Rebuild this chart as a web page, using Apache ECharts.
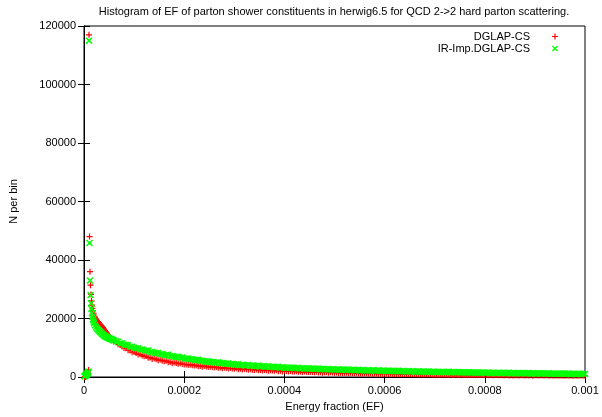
<!DOCTYPE html>
<html>
<head>
<meta charset="utf-8">
<script src="https://cdn.jsdelivr.net/npm/echarts@6/dist/echarts.min.js"></script>
<style>html,body{margin:0;padding:0;background:#fff}#c{width:602px;height:417px}</style>
</head>
<body>
<div id="c"></div>
<script>
// Energy fraction bin positions, in units of 1e-6
const efMicro = [1,2,3,4,5,6,7,8,9,
 10,11,12,13,14,15,16,17,18,19,20,
 22,24,26,28,30,32,34,36,38,40,42,44,46,48,50,52,54,56,58,60,
 64,68,72,76,80,84,88,92,96,100,104,108,112,116,120,124,128,132,136,140,144,148,152,156,160,164,168,172,176,180,184,188,192,196,200,
 204,208,212,216,220,224,228,232,236,240,244,248,252,256,260,264,268,272,276,280,284,288,292,296,300,
 304,308,312,316,320,324,328,332,336,340,344,348,352,356,360,364,368,372,376,380,384,388,392,396,400,
 404,408,412,416,420,424,428,432,436,440,444,448,452,456,460,464,468,472,476,480,484,488,492,496,500,
 504,508,512,516,520,524,528,532,536,540,544,548,552,556,560,564,568,572,576,580,584,588,592,596,600,
 604,608,612,616,620,624,628,632,636,640,644,648,652,656,660,664,668,672,676,680,684,688,692,696,700,
 704,708,712,716,720,724,728,732,736,740,744,748,752,756,760,764,768,772,776,780,784,788,792,796,800,
 804,808,812,816,820,824,828,832,836,840,844,848,852,856,860,864,868,872,876,880,884,888,892,896,900,
 904,908,912,916,920,924,928,932,936,940,944,948,952,956,960,964,968,972,976,980,984,988,992,996,1000];

const dglapCS = [0,0,100,200,400,600,900,1700,2400,
 117000,48000,36000,31400,28200,26000,24600,23500,22600,21800,21200,
 20500,19900,19400,18900,18500,18100,17700,17300,16900,16400,15900,15450,15000,14500,14000,13600,13200,12900,12600,12300,
 11870,11160,10940,10400,9930,9860,9160,9070,8490,8540,8170,7710,7740,7380,7080,7160,6610,6630,6170,6340,6110,5740,5870,5590,5380,5530,5050,5140,4740,4980,4800,4490,4670,4430,4270,
 4310,4080,4200,4030,3900,4030,3710,3800,3530,3720,3610,3400,3540,3390,3280,3430,3130,3230,2980,3180,3080,2880,3040,2890,2800,
 2960,2670,2780,2540,2750,2660,2480,2640,2510,2420,2590,2310,2420,2190,2410,2330,2150,2320,2190,2110,2280,2000,2130,1900,2120,
 2030,1900,2015,1920,1865,1980,1780,1865,1700,1850,1795,1670,1790,1700,1645,1765,1570,1655,1495,1650,1600,1480,1600,1510,1455,
 1580,1390,1480,1325,1480,1430,1310,1435,1345,1295,1420,1230,1320,1165,1330,1280,1160,1285,1200,1155,1280,1095,1185,1035,1200,
 1155,1035,1165,1080,1035,1165,975,1070,915,1080,1035,920,1055,975,925,1055,875,970,820,980,940,825,955,880,835,
 885,805,895,835,805,895,765,830,720,840,805,725,815,760,725,815,685,755,645,760,730,650,745,690,655,
 750,615,685,580,700,665,585,680,625,595,685,555,625,520,640,610,530,625,570,535,630,500,575,470,590,
 560,480,575,520,485,580,450,525,420,540,510,430,525,470,445,540,410,480,375,500,470,390,490,435,405];

const irImpDglapCS = [200,300,500,700,800,1000,1200,1500,1900,
 115000,45800,33000,28000,25200,23300,21800,20600,19700,19000,18400,
 17700,17100,16600,16200,15800,15450,15100,14800,14500,14200,13950,13750,13550,13400,13250,13100,12950,12800,12650,12500,
 12120,12060,11570,11480,10990,10900,10890,10290,10330,9970,9770,9810,9370,9360,8950,8950,9030,8470,8560,8250,8100,8190,7810,7830,7450,7480,7590,7070,7190,6910,6790,6920,6570,6630,6280,
 6260,6330,6030,6050,5760,5780,5860,5460,5550,5340,5250,5350,5090,5130,4870,4920,5030,4660,4770,4580,4510,4630,4390,4450,4210,
 4270,4400,4040,4170,4000,3950,4080,3860,3930,3700,3780,3910,3570,3710,3550,3510,3650,3430,3520,3300,3380,3530,3190,3340,3190,
 3180,3270,3120,3170,3020,3070,3160,2930,3020,2910,2880,2970,2830,2880,2740,2790,2890,2660,2760,2660,2640,2730,2590,2650,2510,
 2570,2670,2450,2550,2450,2430,2530,2390,2450,2310,2370,2470,2250,2360,2260,2240,2340,2200,2270,2130,2190,2300,2080,2190,2090,
 2070,2180,2040,2110,1970,2040,2140,1930,2030,1930,1920,2030,1890,1960,1820,1890,2000,1780,1890,1790,1780,1890,1760,1820,1690,
 1730,1810,1700,1750,1650,1700,1780,1610,1690,1620,1610,1690,1590,1630,1530,1580,1660,1500,1580,1510,1500,1580,1480,1530,1430,
 1480,1560,1400,1480,1410,1400,1480,1380,1430,1330,1380,1465,1305,1385,1310,1300,1380,1280,1335,1240,1290,1370,1215,1295,1230,
 1220,1300,1200,1250,1160,1210,1290,1130,1210,1140,1130,1215,1115,1170,1070,1120,1200,1040,1130,1060,1050,1135,1040,1095,1000];

const seriesNames = ['DGLAP-CS', 'IR-Imp.DGLAP-CS'];
const xTicks = [0, 0.0002, 0.0004, 0.0006, 0.0008, 0.001];
const yTicks = [0, 20000, 40000, 60000, 80000, 100000, 120000];

const PLUS = 'path://M4,0H6V4H10V6H6V10H4V6H0V4H4Z';
const CROSS = 'path://M0,1.5L1.5,0L5,3.5L8.5,0L10,1.5L6.5,5L10,8.5L8.5,10L5,6.5L1.5,10L0,8.5L3.5,5Z';

const toPairs = vals => vals.map((v, i) => [efMicro[i] * 1e-6, v]);

const font = 'Liberation Sans, Arial, sans-serif';
const chart = echarts.init(document.getElementById('c'), null, {renderer: 'canvas'});

const axisCommon = {
  axisLine: {show: true, lineStyle: {color: '#000', width: 1}},
  axisTick: {show: true, inside: true, length: 6, lineStyle: {color: '#000'}},
  splitLine: {show: false},
};
const legendCommon = {
  orient: 'vertical', right: 44, padding: 0, align: 'right',
  itemWidth: 40, itemHeight: 6, itemGap: 5,
  textStyle: {fontFamily: font, fontSize: 11, color: '#000'}
};

chart.setOption({
  animation: false,
  backgroundColor: '#fff',
  title: {
    text: 'Histogram of EF of parton shower constituents in herwig6.5 for QCD 2->2 hard parton scattering.',
    left: 334, top: 6, padding: 0, textAlign: 'center',
    textStyle: {fontFamily: font, fontSize: 11, fontWeight: 'normal', color: '#000'}
  },
  legend: [
    Object.assign({}, legendCommon, {data: [{name: seriesNames[0], icon: PLUS}], top: 31}),
    Object.assign({}, legendCommon, {data: [{name: seriesNames[1], icon: CROSS}], top: 43})
  ],
  grid: {left: 84, right: 17, top: 26, bottom: 37, show: true, borderColor: '#000', borderWidth: 1, containLabel: false},
  xAxis: [
    Object.assign({}, axisCommon, {
      type: 'value', min: xTicks[0], max: xTicks[xTicks.length - 1], interval: xTicks[1] - xTicks[0],
      name: 'Energy fraction (EF)', nameLocation: 'middle', nameGap: 24,
      nameTextStyle: {fontFamily: font, fontSize: 11, color: '#000'},
      axisLabel: {fontFamily: font, fontSize: 11, color: '#000', margin: 8,
        formatter: v => String(parseFloat(v.toPrecision(6)))}
    }),
    Object.assign({}, axisCommon, {
      type: 'value', position: 'top', min: xTicks[0], max: xTicks[xTicks.length - 1], interval: xTicks[1] - xTicks[0],
      axisLabel: {show: false}
    })
  ],
  yAxis: [
    Object.assign({}, axisCommon, {
      type: 'value', min: yTicks[0], max: yTicks[yTicks.length - 1], interval: yTicks[1] - yTicks[0],
      name: 'N per bin', nameLocation: 'middle', nameGap: 65, nameRotate: 90,
      nameTextStyle: {fontFamily: font, fontSize: 11, color: '#000'},
      axisLabel: {fontFamily: font, fontSize: 11, color: '#000', margin: 8, formatter: v => String(v)}
    }),
    Object.assign({}, axisCommon, {
      type: 'value', position: 'right', min: yTicks[0], max: yTicks[yTicks.length - 1], interval: yTicks[1] - yTicks[0],
      axisLabel: {show: false}
    })
  ],
  series: [
    {name: seriesNames[0], type: 'scatter', symbol: PLUS, symbolSize: 6,
     itemStyle: {color: '#ff0000', opacity: 1}, data: toPairs(dglapCS), z: 2},
    {name: seriesNames[1], type: 'scatter', symbol: CROSS, symbolSize: 7,
     itemStyle: {color: '#00ff00', opacity: 1}, data: toPairs(irImpDglapCS), z: 3}
  ]
});
</script>
</body>
</html>
